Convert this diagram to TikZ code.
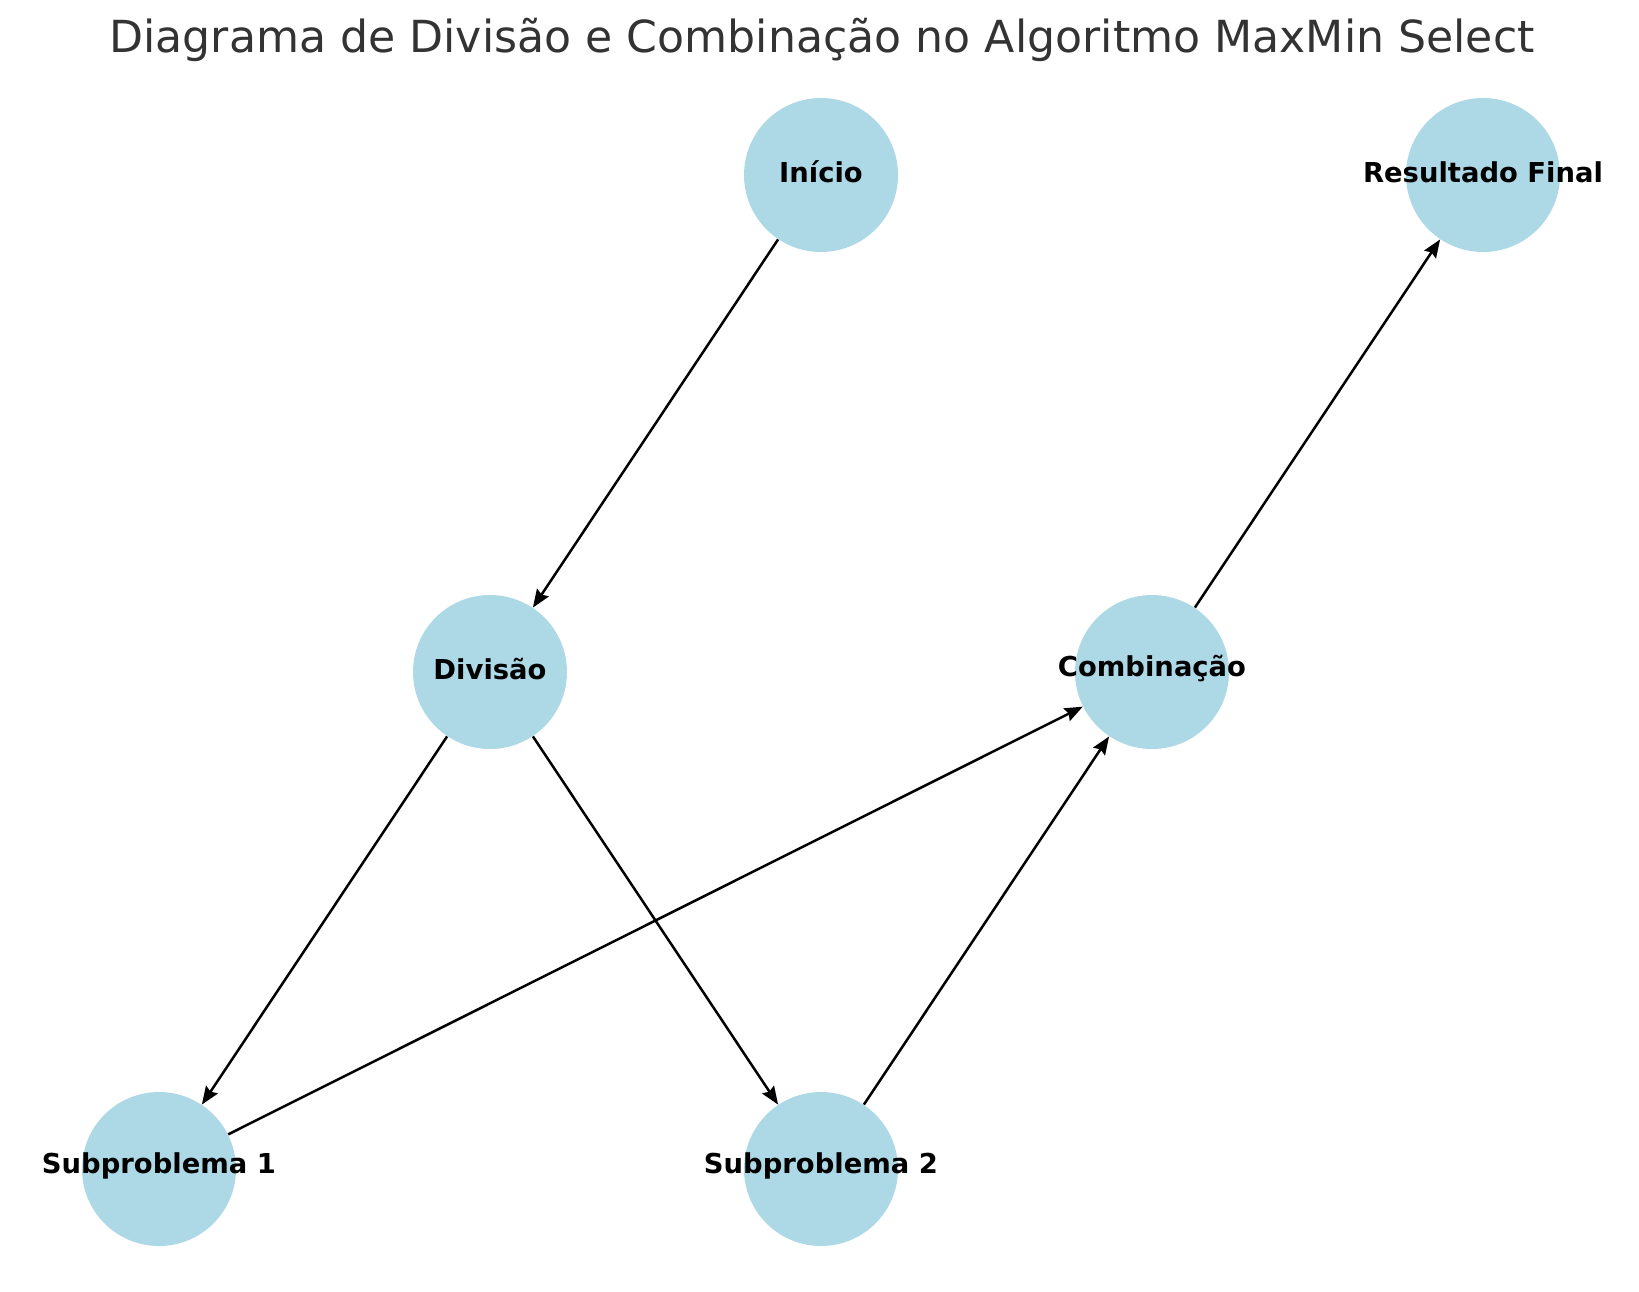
\documentclass[tikz,border=0pt]{standalone}
\usepackage{fontspec}
\setmainfont{DejaVu Sans}
\usetikzlibrary{arrows.meta}
\definecolor{nodeblue}{HTML}{ADD8E6}
\definecolor{titlegray}{HTML}{333333}
\begin{document}
\begin{tikzpicture}[x=0.5pt,y=-0.5pt,
  bubble/.style={circle,fill=nodeblue,minimum size=77pt,inner sep=0pt},
  lbl/.style={font=\fontsize{13.7pt}{16pt}\selectfont\bfseries,text=black,inner sep=0pt,yshift=1.5pt},
  conn/.style={draw=black,line width=1.25pt,-{Stealth[length=9pt,width=7pt,inset=1.2pt]}}]
\useasboundingbox (0,0) rectangle (1639,1291);
\node[font=\fontsize{22.1pt}{27pt}\selectfont,text=titlegray] (title) at (822,40) {Diagrama de Divisão e Combinação no Algoritmo MaxMin Select};
\node[bubble] (ini) at (821,175) {};
\node[bubble] (res) at (1483,175) {};
\node[bubble] (div) at (490,672) {};
\node[bubble] (com) at (1152,672) {};
\node[bubble] (s1) at (159,1169) {};
\node[bubble] (s2) at (821,1169) {};
\node[lbl] (tini) at (ini) {Início};
\node[lbl] (tres) at (res) {Resultado Final};
\node[lbl] (tdiv) at (div) {Divisão};
\node[lbl] (tcom) at (com) {Combinação};
\node[lbl] (ts1) at (s1) {Subproblema 1};
\node[lbl] (ts2) at (s2) {Subproblema 2};
\draw[conn] (ini) -- (div);
\draw[conn] (div) -- (s1);
\draw[conn] (div) -- (s2);
\draw[conn] (s1) -- (com);
\draw[conn] (s2) -- (com);
\draw[conn] (com) -- (res);
\end{tikzpicture}
\end{document}
